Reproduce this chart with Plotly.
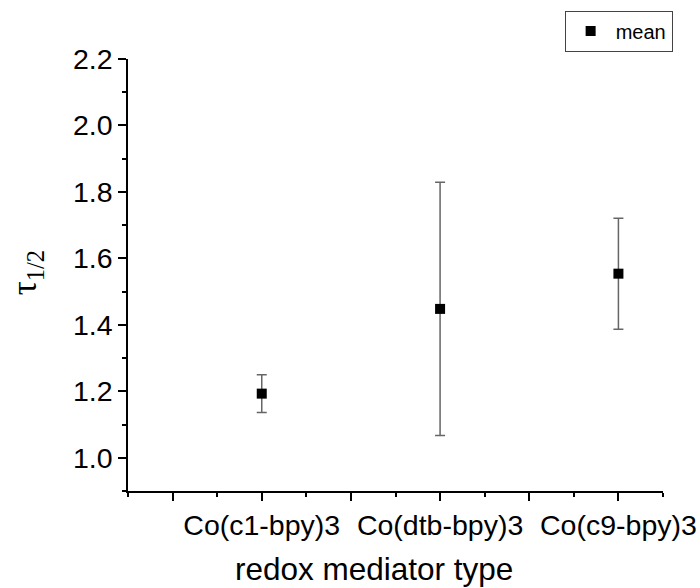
import plotly.graph_objects as go

# Redox mediators and their half-life statistics
mediators = ["Co(c1-bpy)3", "Co(dtb-bpy)3", "Co(c9-bpy)3"]
tau_mean = [1.193, 1.448, 1.554]
tau_sd = [0.057, 0.381, 0.167]

positions = [i + 1 for i in range(len(mediators))]

SANS = "Liberation Sans, Arial, sans-serif"
SERIF = "Liberation Serif, Times New Roman, serif"

fig = go.Figure()
fig.add_trace(go.Scatter(
    x=positions,
    y=tau_mean,
    mode="markers",
    name="mean",
    marker=dict(symbol="square", size=10, color="black"),
    error_y=dict(type="data", array=tau_sd, visible=True,
                 color="#666666", thickness=1.5, width=5),
))

# major ticks every half category, labels only on the categories
major_vals = [0.5 * k for k in range(1, 7)]
major_text = [mediators[int(v) - 1] if v == int(v) else "" for v in major_vals]

fig.update_xaxes(
    range=[0.25, 3.25],
    tickmode="array", tickvals=major_vals, ticktext=major_text,
    ticks="outside", ticklen=8, tickwidth=1.5, tickcolor="black",
    showline=True, linecolor="black", linewidth=1.5,
    showgrid=False, zeroline=False,
    tickfont=dict(family=SANS, size=28.5, color="black"),
    minor=dict(tick0=0.25, dtick=0.25, ticks="outside", ticklen=4,
               tickwidth=1.5, tickcolor="black", showgrid=False),
)
fig.update_yaxes(
    range=[0.9, 2.2],
    tick0=1.0, dtick=0.2, tickformat=".1f",
    ticks="outside", ticklen=8, tickwidth=1.5, tickcolor="black",
    showline=True, linecolor="black", linewidth=1.5,
    showgrid=False, zeroline=False,
    tickfont=dict(family=SANS, size=28.5, color="black"),
    minor=dict(dtick=0.1, ticks="outside", ticklen=4,
               tickwidth=1.5, tickcolor="black", showgrid=False),
)

fig.add_annotation(
    text="redox mediator type", xref="paper", yref="paper",
    x=0.4604, y=-0.1815, xanchor="center", yanchor="middle",
    showarrow=False, font=dict(family=SANS, size=31.5, color="black"),
)
fig.add_annotation(
    text="τ<sub>1/2</sub>", xref="paper", yref="paper",
    x=-0.19, y=0.5046, xanchor="center", yanchor="middle",
    textangle=-90, showarrow=False,
    font=dict(family=SERIF, size=35, color="black"),
)

fig.update_layout(
    width=700, height=588,
    margin=dict(l=128, r=37, t=59, b=97, autoexpand=False),
    plot_bgcolor="white", paper_bgcolor="white",
    showlegend=True,
    legend=dict(
        x=1.018, y=1.112, xanchor="right", yanchor="top",
        bgcolor="white", bordercolor="#444444", borderwidth=1,
        font=dict(family=SANS, size=20, color="black"),
        itemwidth=40,
    ),
)

fig.write_html("out.html")
